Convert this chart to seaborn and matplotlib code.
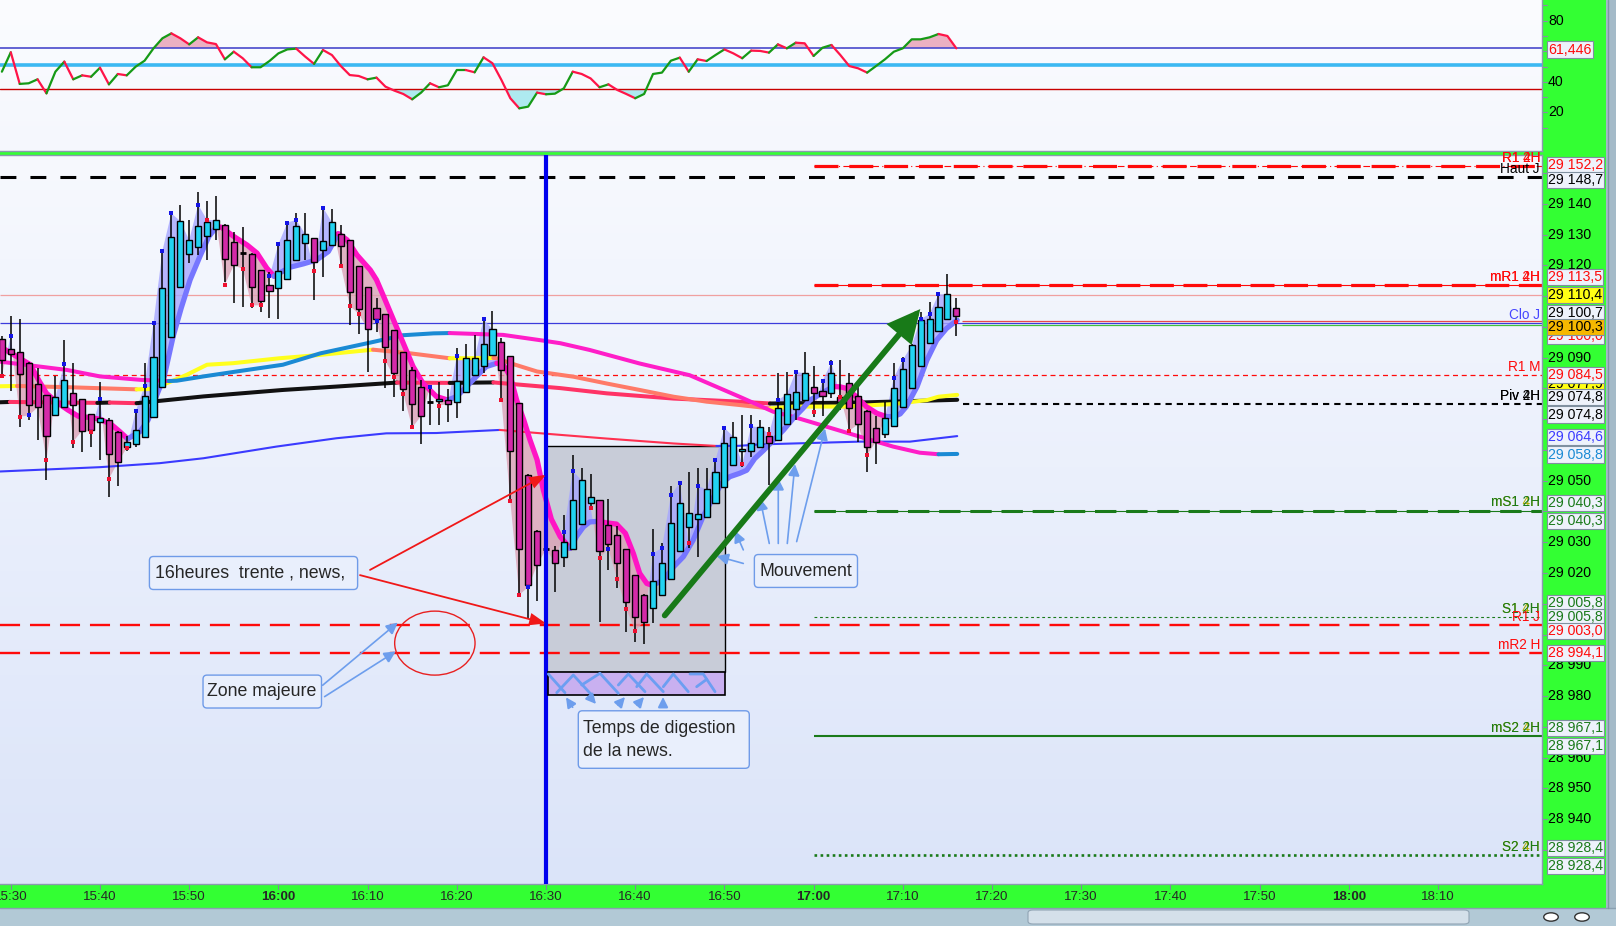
import numpy as np
import matplotlib
matplotlib.use("Agg")
import matplotlib.pyplot as plt
import seaborn as sns
from matplotlib.patches import Rectangle, FancyBboxPatch, Ellipse, FancyArrowPatch, Circle
from matplotlib.transforms import blended_transform_factory
from matplotlib.colors import LinearSegmentedColormap
from matplotlib.lines import Line2D

# ====================== DATA ======================
# minutes relative to 16:30 (one candle per minute)
minutes = list(range(-61, 47))
opens = [29096.0, 29092.7, 29091.7, 29088.2, 29081.4, 29077.8, 29071.3, 29074.1, 29078.4, 29076.5,
         29071.6, 29069.0, 29069.7, 29065.8, 29060.9, 29061.9, 29064.1, 29070.6, 29080.4, 29096.6,
         29112.9, 29123.7, 29125.9, 29129.5, 29131.8, 29133.1, 29127.6, 29124.0, 29123.7, 29118.4,
         29113.5, 29112.6, 29115.5, 29121.6, 29127.2, 29128.8, 29124.9, 29126.7, 29130.1, 29128.2,
         29119.7, 29112.9, 29106.1, 29104.1, 29098.9, 29091.8, 29085.9, 29080.4, 29075.7, 29075.8,
         29076.2, 29075.5, 29078.9, 29084.3, 29087.2, 29090.9, 29095.0, 29090.4, 29075.2, 29052.0,
         29033.7, 29027.7, 29027.5, 29025.3, 29027.7, 29035.8, 29042.9, 29043.6, 29035.5, 29032.2,
         29027.7, 29019.2, 29012.7, 29008.5, 29012.7, 29018.2, 29027.3, 29035.1, 29037.4, 29038.1,
         29042.6, 29047.8, 29055.0, 29059.6, 29059.7, 29061.0, 29064.5, 29063.2, 29068.3, 29073.2,
         29076.2, 29080.6, 29079.3, 29078.4, 29077.3, 29081.7, 29077.5, 29072.8, 29067.0, 29065.1,
         29067.8, 29073.8, 29080.1, 29087.3, 29094.7, 29098.7, 29102.5, 29106.3]
highs = [29097.0, 29103.6, 29102.5, 29088.7, 29086.6, 29078.0, 29083.9, 29095.8, 29088.4, 29076.7,
         29071.8, 29082.2, 29070.3, 29066.0, 29064.4, 29073.0, 29088.2, 29101.2, 29125.0, 29137.0,
         29139.7, 29134.8, 29143.7, 29140.8, 29142.4, 29133.3, 29131.0, 29132.6, 29123.9, 29118.6,
         29118.0, 29127.2, 29134.2, 29137.0, 29137.0, 29129.0, 29138.6, 29138.3, 29133.2, 29128.4,
         29119.9, 29113.1, 29109.3, 29104.3, 29099.1, 29092.0, 29087.1, 29082.8, 29080.6, 29082.2,
         29079.7, 29093.0, 29094.5, 29097.4, 29102.3, 29105.2, 29096.3, 29090.6, 29075.4, 29052.2,
         29033.9, 29029.0, 29028.8, 29038.8, 29058.3, 29054.2, 29052.2, 29043.8, 29044.2, 29035.3,
         29027.9, 29019.4, 29013.1, 29034.2, 29029.6, 29048.3, 29049.9, 29052.7, 29054.0, 29054.0,
         29057.3, 29067.8, 29069.2, 29071.3, 29071.3, 29069.7, 29067.5, 29085.1, 29085.2, 29085.2,
         29091.9, 29087.3, 29082.7, 29089.2, 29089.2, 29084.9, 29080.6, 29073.0, 29071.1, 29075.7,
         29088.2, 29090.3, 29094.5, 29104.9, 29108.2, 29111.5, 29117.1, 29109.3]
lows = [29084.0, 29079.3, 29067.6, 29069.8, 29063.3, 29050.3, 29071.0, 29074.0, 29060.6, 29059.2,
        29061.1, 29056.8, 29044.6, 29048.3, 29059.5, 29061.1, 29064.0, 29070.5, 29080.3, 29096.5,
        29112.8, 29120.7, 29123.4, 29121.6, 29128.3, 29114.7, 29107.7, 29106.6, 29106.1, 29105.0,
        29102.8, 29102.5, 29115.4, 29121.5, 29121.8, 29108.8, 29116.3, 29126.6, 29119.6, 29100.7,
        29097.6, 29085.2, 29098.5, 29080.1, 29077.1, 29072.5, 29068.1, 29061.9, 29068.1, 29068.1,
        29069.2, 29070.3, 29078.8, 29084.2, 29085.0, 29090.8, 29075.7, 29042.7, 29012.3, 29005.3,
        29011.0, 29026.0, 29013.9, 29022.0, 29027.6, 29035.7, 29041.5, 29004.2, 29020.9, 29015.0,
        29000.9, 28997.7, 28996.9, 29003.6, 29012.6, 29018.1, 29027.2, 29028.0, 29025.1, 29038.0,
        29042.5, 29047.7, 29054.9, 29054.5, 29057.8, 29060.9, 29048.6, 29063.1, 29068.2, 29069.7,
        29076.1, 29070.8, 29071.0, 29077.0, 29073.0, 29066.3, 29062.7, 29052.9, 29055.4, 29063.8,
        29067.7, 29073.7, 29080.0, 29087.2, 29094.6, 29098.6, 29102.4, 29097.2]
closes = [29089.1, 29091.2, 29084.6, 29074.5, 29073.8, 29064.4, 29077.1, 29082.7, 29074.5, 29066.3,
          29066.4, 29070.3, 29058.8, 29056.0, 29062.5, 29066.4, 29077.5, 29090.1, 29112.6, 29129.2,
          29134.4, 29128.2, 29132.7, 29134.0, 29134.7, 29122.0, 29120.0, 29124.0, 29113.1, 29108.4,
          29111.6, 29118.2, 29128.2, 29132.8, 29130.2, 29121.0, 29128.0, 29134.0, 29126.3, 29111.3,
          29105.7, 29099.4, 29102.5, 29093.4, 29085.0, 29079.7, 29074.9, 29071.0, 29075.7, 29076.6,
          29074.9, 29082.3, 29089.8, 29089.8, 29094.4, 29099.2, 29085.9, 29059.6, 29027.7, 29016.0,
          29022.5, 29027.7, 29023.4, 29030.0, 29043.6, 29050.1, 29044.6, 29027.0, 29029.3, 29023.1,
          29010.7, 29005.8, 29004.2, 29017.4, 29023.4, 29036.1, 29042.9, 29039.6, 29039.1, 29047.2,
          29052.7, 29062.1, 29064.3, 29060.3, 29062.3, 29067.3, 29062.1, 29073.5, 29078.1, 29078.9,
          29084.9, 29078.4, 29077.5, 29084.9, 29075.7, 29073.5, 29068.3, 29061.1, 29062.7, 29070.3,
          29080.0, 29086.2, 29094.0, 29102.2, 29102.5, 29106.6, 29110.6, 29103.7]

# swing markers (minute, price)
blue_m = [-60, -58, -54, -50, -46, -45, -44, -43, -42, -39, -31, -30, -29, -28, -25, -19, -13, -10, -7, -2,
          2, 3, 7, 12, 13, 14, 15, 17, 19, 20, 23, 26, 28, 31, 32, 39, 40, 42, 43, 44]
blue_v = [29097.2, 29071.2, 29087.9, 29076.6, 29072.5, 29080.9, 29101.4, 29124.8, 29136.9, 29139.7,
          29116.4, 29126.9, 29133.9, 29134.8, 29138.8, 29102.0, 29080.3, 29090.6, 29102.5, 29015.4,
          29033.3, 29053.2, 29027.8, 29026.3, 29028.2, 29045.3, 29049.3, 29048.3, 29056.7, 29067.2,
          29067.7, 29076.2, 29085.4, 29082.5, 29088.4, 29083.5, 29089.2, 29102.5, 29104.2, 29110.6]
red_m = [-61, -59, -56, -53, -51, -49, -47, -38, -36, -34, -33, -32, -26, -23, -22, -21, -18, -17, -16, -15,
         -12, -5, -4, -3, 5, 6, 8, 9, 10, 16, 22, 25, 30, 33, 34, 36, 46]
red_v = [29084.2, 29070.8, 29056.8, 29062.7, 29065.8, 29050.6, 29060.6, 29134.8, 29113.7, 29118.9,
         29107.0, 29107.0, 29118.3, 29119.9, 29106.9, 29104.2, 29088.9, 29083.6, 29078.3, 29067.3,
         29074.4, 29076.3, 29043.4, 29012.9, 29041.2, 29024.9, 29017.9, 29008.4, 29001.2, 29029.6,
         29055.4, 29065.2, 29072.4, 29077.3, 29066.3, 29058.4, 29101.7]

# fast (thick) moving average
fast_x = [-61.2, -57.8, -56.9, -56.0, -54.7, -53.6, -52.4, -51.3, -50.0, -48.7,
          -47.8, -46.9, -45.5, -44.6, -43.7, -42.8, -41.8, -40.9, -39.9, -38.8,
          -37.8, -36.9, -36.4, -35.0, -33.5, -32.4, -31.3, -30.5, -28.7, -27.2,
          -25.7, -24.4, -23.3, -22.3, -21.2, -19.7, -19.0, -18.2, -17.1, -16.0,
          -14.9, -13.8, -12.3, -11.0, -10.0, -8.9, -7.8, -6.7, -5.5, -4.8,
          -4.0, -3.3, -2.5, -1.8, -1.0, -0.3, 0.6, 1.6, 2.7, 3.4,
          4.2, 4.9, 5.9, 6.8, 7.9, 8.9, 9.8, 10.5, 11.3, 11.9,
          13.2, 14.3, 15.4, 16.5, 17.6, 18.8, 19.7, 20.6, 21.7, 22.5,
          23.4, 24.4, 25.5, 26.6, 27.7, 28.8, 29.6, 30.9, 32.2, 33.0,
          33.7, 34.8, 35.9, 37.1, 38.2, 39.0, 39.7, 40.4, 41.6, 42.7,
          43.8, 44.9, 46.1]
fast_v = [29093.6, 29087.7, 29082.8, 29078.4, 29075.2, 29073.0, 29070.9, 29070.6, 29070.0, 29068.2,
          29066.0, 29063.6, 29066.0, 29069.8, 29077.4, 29083.9, 29096.9, 29106.1, 29115.3, 29122.9,
          29129.4, 29132.6, 29132.4, 29129.4, 29126.6, 29124.0, 29119.1, 29116.5, 29119.4, 29120.5,
          29121.8, 29124.5, 29130.3, 29128.3, 29123.4, 29118.5, 29115.3, 29109.9, 29102.3, 29094.7,
          29087.1, 29081.7, 29077.4, 29076.2, 29077.4, 29080.6, 29083.9, 29087.1, 29088.2, 29087.7,
          29083.9, 29076.3, 29069.8, 29063.3, 29056.8, 29047.0, 29037.5, 29031.8, 29028.0, 29031.8,
          29035.0, 29036.6, 29036.8, 29036.3, 29035.9, 29032.9, 29026.3, 29019.9, 29016.6, 29016.0,
          29017.7, 29022.0, 29025.3, 29030.7, 29038.3, 29044.8, 29049.1, 29051.3, 29052.4, 29053.4,
          29057.2, 29059.9, 29063.2, 29066.4, 29070.2, 29073.5, 29076.2, 29078.4, 29080.6, 29080.5,
          29080.0, 29077.3, 29074.1, 29071.9, 29070.8, 29070.9, 29071.7, 29074.1, 29080.6, 29089.2,
          29095.7, 29099.5, 29102.2]

# slower moving averages
maA_x = [-61.2, -53.7, -50.0, -45.5, -42.3, -41.4, -38.4, -34.7, -29.5, -25.3, -19.7, -16.0, -12.6, -10.8,
         -4.8, -0.7, 1.6, 4.9, 10.5, 16.1, 21.7, 25.5, 27.7, 31.4, 35.2, 38.9, 41.9, 44.0, 46.1]
maA_v = [29088.7, 29086.0, 29083.9, 29082.8, 29082.4, 29082.5, 29083.9, 29085.5, 29087.7, 29091.4, 29094.9,
         29097.3, 29097.9, 29098.0, 29097.4, 29095.7, 29094.7, 29092.5, 29088.1, 29084.3, 29077.3, 29072.4,
         29070.8, 29067.6, 29064.3, 29061.1, 29059.1, 29058.6, 29058.7]
maB_x = [-61.2, -59.3, -53.7, -45.9, -44.4, -42.5, -40.3, -38.0, -35.1, -29.9, -25.3, -19.4, -15.2, -10.8,
         -5.9, -5.5, -4.0, -1.0, 3.1, 6.8, 10.5, 14.3, 18.0, 21.7, 25.1, 27.7, 33.3, 38.9, 42.7, 44.0, 46.1]
maB_v = [29080.7, 29080.8, 29080.4, 29079.7, 29079.8, 29081.7, 29084.4, 29087.7, 29088.2, 29089.8, 29090.9,
         29092.6, 29091.4, 29089.8, 29089.9, 29089.8, 29088.2, 29085.5, 29083.8, 29081.6, 29079.5, 29077.3,
         29075.7, 29074.6, 29073.5, 29074.1, 29074.1, 29074.9, 29076.2, 29077.3, 29077.9]
maC_x = [-61.2, -60.1, -50.3, -48.9, -45.9, -38.4, -29.5, -23.5, -16.7, -10.8, -5.9, 1.6, 6.8, 14.3, 21.7,
         25.1, 35.0, 46.1]
maC_v = [29075.5, 29075.6, 29075.3, 29075.4, 29075.2, 29077.4, 29079.5, 29080.6, 29081.9, 29081.8, 29081.95,
         29080.1, 29078.4, 29076.7, 29075.7, 29075.1, 29075.4, 29076.3]
maD_x = [-61.2, -55.6, -50.0, -43.3, -38.4, -30.2, -23.5, -17.9, -12.3, -5.2, 1.6, 6.8, 14.3, 19.1, 21.7,
         24.0, 35.2, 40.8, 46.1]
maD_v = [29053.0, 29053.7, 29054.4, 29055.7, 29057.3, 29061.1, 29063.8, 29065.4, 29065.5, 29066.5, 29064.9,
         29063.7, 29062.1, 29061.3, 29061.35, 29061.8, 29062.7, 29062.7, 29064.5]

# RSI (one value per candle)
rsi = [46.6, 59.3, 38.6, 39.0, 41.6, 32.4, 46.6, 53.2, 41.6, 44.2,
       43.3, 49.2, 38.3, 45.1, 44.2, 49.9, 53.8, 61.9, 68.5, 71.7,
       68.5, 64.5, 69.1, 65.8, 64.7, 54.7, 59.7, 55.4, 49.5, 49.5,
       53.6, 58.6, 61.2, 61.7, 56.5, 51.7, 60.8, 57.5, 50.3, 44.4,
       43.8, 41.6, 42.7, 36.8, 34.2, 32.0, 28.5, 32.9, 39.0, 36.4,
       37.7, 47.7, 47.7, 46.2, 56.0, 52.1, 41.2, 29.2, 22.6, 23.7,
       32.9, 31.8, 32.2, 35.7, 46.6, 45.1, 42.2, 36.4, 38.3, 34.6,
       32.0, 29.2, 32.0, 45.1, 46.0, 53.8, 55.8, 46.6, 54.7, 53.6,
       57.5, 61.2, 58.6, 55.4, 60.4, 60.2, 59.1, 64.5, 61.9, 65.6,
       65.2, 56.9, 62.3, 64.1, 57.5, 50.3, 48.8, 46.0, 50.3, 54.7,
       59.7, 61.9, 67.8, 67.8, 69.1, 71.3, 70.0, 61.9]
rsi_upper, rsi_mid, rsi_lower = 62.3, 51.0, 35.1
rsi_ticks = [80, 40, 20]
rsi_value_label = "61,446"

# price levels
haut_j, r1_2h, mr1_2h, line_110 = 29148.7, 29152.2, 29113.5, 29110.4
clo_j, r1_m, piv_2h = 29101.2, 29084.5, 29074.8
ms1_2h, s1_2h, r1_j, mr2_h = 29040.3, 29005.8, 29003.0, 28994.1
ms2_2h, s2_2h = 28967.1, 28928.4

time_ticks = list(range(-60, 101, 10))
time_labels = ["15:30", "15:40", "15:50", "16:00", "16:10", "16:20", "16:30", "16:40", "16:50",
               "17:00", "17:10", "17:20", "17:30", "17:40", "17:50", "18:00", "18:10"]
price_ticks = list(range(28930, 29151, 10))
price_labels_shown = [29140, 29130, 29120, 29090, 29050, 29030, 29020, 28990, 28980, 28960, 28950, 28940]

# value boxes on the price scale
value_texts = ["29 152,2", "29 148,7", "29 113,5", "29 110,4", "29 100,7", "29 100,0", "29 100,3",
               "29 077,9", "29 084,5", "29 074,8", "29 074,8", "29 064,6", "29 058,8",
               "29 040,3", "29 040,3", "29 005,8", "29 005,8", "29 003,0", "28 994,1",
               "28 967,1", "28 967,1", "28 928,4", "28 928,4"]

# ====================== LAYOUT / STYLE ======================
W, H = 1616, 926
PLOT_R = 1542
RSI_BOT = 151
MAIN_TOP, MAIN_BOT = 155, 884
X_1630, PX_MIN = 546.0, 8.92
Y_29050, PX_PT = 480.7, 3.076
XMIN = -X_1630 / PX_MIN
XMAX = (PLOT_R - X_1630) / PX_MIN
YMAX = 29050 + (Y_29050 - MAIN_TOP) / PX_PT
YMIN = 29050 - (MAIN_BOT - Y_29050) / PX_PT
RSI_PX = 1.5267
RSI_YMAX = 80 + 20.7 / RSI_PX
RSI_YMIN = 20 - (RSI_BOT - 112.3) / RSI_PX
START17 = 30

GREEN_BG = "#33ff33"
CYAN = "#22d3f2"
MAG = "#d42aa8"
RED = "#ff0a0a"
GRN = "#1a7a1a"
OLIVE = "#b0b000"

value_styles = [(RED, "#eef2fb", 29152.6), ("black", "#eef2fb", 29147.7), (RED, "#eef2fb", 29116.3),
                ("black", "#ffff14", 29110.3), ("black", "#eef2fb", 29104.5), (RED, "#eef2fb", 29097.0),
                ("black", "#f6b800", 29100.0), ("black", "#ffff14", 29081.4), (RED, "#eef2fb", 29084.3),
                ("black", "#eef2fb", 29077.2), ("black", "#eef2fb", 29071.5), ("#3a3aff", "#eef2fb", 29064.3),
                ("#1a8ad4", "#eef2fb", 29058.5), (GRN, "#eef2fb", 29042.8), (GRN, "#eef2fb", 29037.0),
                (GRN, "#eef2fb", 29010.2), (GRN, "#eef2fb", 29005.6), (RED, "#eef2fb", 29001.1),
                (RED, "#eef2fb", 28993.9), (GRN, "#eef2fb", 28969.7), (GRN, "#eef2fb", 28963.8),
                (GRN, "#eef2fb", 28930.6), (GRN, "#eef2fb", 28924.8)]

sns.set_theme(style="white")
plt.rcParams['font.family'] = ['Liberation Sans', 'DejaVu Sans']

fig = plt.figure(figsize=(W / 100, H / 100), dpi=100, facecolor=GREEN_BG)
ax_r = fig.add_axes([0, 1 - RSI_BOT / H, PLOT_R / W, RSI_BOT / H])
ax = fig.add_axes([0, 1 - MAIN_BOT / H, PLOT_R / W, (MAIN_BOT - MAIN_TOP) / H])


def grad_bg(a, top, bottom):
    cmap = LinearSegmentedColormap.from_list("bg", [bottom, top])
    a.imshow(np.linspace(0, 1, 256).reshape(-1, 1), extent=[0, 1, 0, 1], transform=a.transAxes,
             cmap=cmap, aspect="auto", origin="lower", zorder=-10, interpolation="bilinear")


def draw_runs(a, xs, ys, up_col, dn_col, lw, z):
    xs = np.asarray(xs, float)
    ys = np.asarray(ys, float)
    cols = [up_col if ys[i + 1] >= ys[i] else dn_col for i in range(len(xs) - 1)]
    s = 0
    for i in range(1, len(cols) + 1):
        if i == len(cols) or cols[i] != cols[s]:
            sns.lineplot(x=xs[s:i + 1], y=ys[s:i + 1], color=cols[s], linewidth=lw, ax=a,
                         estimator=None, sort=False, zorder=z, solid_capstyle="round", legend=False)
            s = i


grad_bg(ax_r, "#fbfcff", "#f5f7fd")
grad_bg(ax, "#f7f9fe", "#dbe4f9")

# ---------------- RSI panel ----------------
mx = np.asarray(minutes, float)
rv = np.asarray(rsi, float)
ax_r.fill_between(mx, rv, rsi_upper, where=rv >= rsi_upper, interpolate=True, color="#ebb0c2", lw=0, zorder=1)
ax_r.fill_between(mx, rv, rsi_lower, where=rv <= rsi_lower, interpolate=True, color="#aeeaf0", lw=0, zorder=1)
ax_r.axhline(rsi_upper, color="#3a3ac8", lw=1.1, zorder=2)
ax_r.axhline(rsi_mid, color="#3cb8f2", lw=2.6, zorder=2)
ax_r.axhline(rsi_lower, color="#c80000", lw=1.0, zorder=2)
draw_runs(ax_r, mx, rv, "#169a16", "#ff1448", 1.6, 3)
ax_r.set_xlim(XMIN, XMAX)
ax_r.set_ylim(RSI_YMIN, RSI_YMAX)
ax_r.set_xticks([]); ax_r.set_yticks([])
ax_r.set_xlabel(""); ax_r.set_ylabel("")
for side, sp in ax_r.spines.items():
    sp.set_visible(side in ("right", "bottom"))
    sp.set_color("#8a9aae"); sp.set_linewidth(1.0)

tr_r = blended_transform_factory(fig.transFigure, ax_r.transData)
for v in range(10, 91, 10):
    ax_r.plot([PLOT_R / W, (PLOT_R + 5) / W], [v, v], transform=tr_r, color="#8a8aa8", lw=0.8, clip_on=False)
for v in rsi_ticks:
    ax_r.text(1548 / W, v, str(v), transform=tr_r, va="center", ha="left", fontsize=10.2, color="black")
ax_r.text(1548 / W, 61.1, rsi_value_label, transform=tr_r, va="center", ha="left", fontsize=10.2, color=RED,
          bbox=dict(boxstyle="square,pad=0.08", fc="#eef2fb", ec="#8090a0", lw=0.8))

# ---------------- main panel ----------------
ax.add_patch(Rectangle((0, 28987.9), 20.07, 29061.3 - 28987.9, fc="#c8ccd8", ec="black", lw=1.0, zorder=1))


def hline(y, x0, color, lw, ls="-", z=2.2):
    ax.plot([x0, XMAX], [y, y], color=color, lw=lw, linestyle=ls, zorder=z,
            solid_capstyle="butt", dash_capstyle="butt")


hline(haut_j, XMIN, "black", 2.2, (0, (5.2, 4.6)))
hline(r1_2h, START17, RED, 0.8, (0, (6, 3, 1, 3)))
hline(r1_2h, START17, RED, 2.3, (0, (7.5, 3.4)))
hline(mr1_2h, START17, RED, 0.8)
hline(mr1_2h, START17, RED, 2.3, (0, (7.5, 3.0)))
hline(line_110, XMIN, "#f0a0a0", 0.9)
hline(clo_j, XMIN, "#3c3cdc", 0.9)
hline(clo_j + 0.7, 46.6, "#e84848", 0.9)
hline(clo_j - 0.5, 46.6, "#40c040", 0.9)
hline(r1_m, XMIN, RED, 0.9, (0, (4, 3)))
hline(piv_2h, 46.7, "black", 1.5, (0, (3, 2.4)))
hline(ms1_2h, START17, GRN, 0.8)
hline(ms1_2h, START17, GRN, 2.2, (0, (7, 3.2)))
hline(s1_2h, START17, GRN, 0.8, (0, (2.5, 2.5)))
hline(r1_j, XMIN, RED, 1.7, (0, (8.5, 4.2)))
hline(mr2_h, XMIN, RED, 1.7, (0, (8.5, 4.2)))
hline(ms2_2h, START17, GRN, 1.5)
hline(s2_2h, START17, GRN, 1.9, (0, (1.0, 1.3)))

# fills between fast MA and price line
fast_line = np.asarray(closes, float).copy()
for mm, vv in zip(blue_m, blue_v):
    fast_line[mm + 61] = vv
for mm, vv in zip(red_m, red_v):
    fast_line[mm + 61] = vv
ma_at = np.interp(mx, fast_x, fast_v)
ax.fill_between(mx, ma_at, fast_line, where=fast_line >= ma_at, interpolate=True,
                color="#a6a6ff", alpha=0.8, lw=0, zorder=2.6)
ax.fill_between(mx, ma_at, fast_line, where=fast_line < ma_at, interpolate=True,
                color="#dca2b6", alpha=0.8, lw=0, zorder=2.6)

# moving averages
draw_runs(ax, maD_x, maD_v, "#3a3aff", "#ff3050", 1.5, 3)
draw_runs(ax, maC_x, maC_v, "#111111", "#ff3366", 2.9, 3.1)
draw_runs(ax, maB_x, maB_v, "#ffff1e", "#ff7a68", 2.9, 3.2)
draw_runs(ax, maA_x, maA_v, "#1a8ad4", "#ff1ec8", 2.9, 3.3)
draw_runs(ax, fast_x, fast_v, "#7676ff", "#ff14c4", 3.8, 4)

# candles
BW = 0.68
for m, o, h, l, c in zip(minutes, opens, highs, lows, closes):
    ax.plot([m, m], [l, h], color="black", lw=1.1, zorder=5, solid_capstyle="butt")
    if abs(c - o) < 0.35:
        ax.plot([m - BW / 2, m + BW / 2], [c, c], color="black", lw=2.0, zorder=6, solid_capstyle="butt")
    else:
        ax.add_patch(Rectangle((m - BW / 2, min(o, c)), BW, abs(c - o), fc=CYAN if c > o else MAG,
                               ec="black", lw=1.0, zorder=6))

ax.scatter(blue_m, blue_v, marker="s", s=11, color="#1414e6", lw=0, zorder=6.5)
ax.scatter(red_m, red_v, marker="s", s=11, color="#ee1030", lw=0, zorder=6.5)

# 16:30 vertical line
ax.axvline(0, color="#0000ee", lw=3.0, zorder=7)

# digestion strip
ax.add_patch(Rectangle((0.22, 28980.33), 19.85, 28987.9 - 28980.33, fc="#c9b0f0", ec="black", lw=1.2, zorder=8))
zig = [[(0.26, 28987.16), (2.13, 28981.08)],
       [(1.20, 28981.08), (3.06, 28986.83), (5.12, 28980.33)],
       [(4.00, 28983.58), (6.05, 28987.39), (8.11, 28980.88)],
       [(8.11, 28983.58), (9.23, 28987.16), (11.10, 28981.40)],
       [(10.17, 28983.03), (11.29, 28987.16), (13.15, 28981.40)],
       [(13.15, 28983.03), (14.27, 28987.16), (15.95, 28981.40)],
       [(16.14, 28987.16), (17.63, 28987.16), (18.95, 28981.40)],
       [(16.89, 28983.03), (18.02, 28985.44)]]
for pl in zig:
    xs, ys = zip(*pl)
    ax.plot(xs, ys, color="#6c9ef2", lw=2.0, zorder=8.5, solid_capstyle="round")

BOX_FC, BOX_EC = "#e9effc", "#6f9be8"
NOTE_FS = 12.8


def note_box(x0, x1, y0, y1):
    ax.add_patch(FancyBboxPatch((x0, y0), x1 - x0, y1 - y0, boxstyle="round,pad=0,rounding_size=0.45",
                                mutation_aspect=PX_MIN / PX_PT, fc=BOX_FC, ec=BOX_EC, lw=1.0, zorder=9))


def arrow(p0, p1, color, lw, ms, style, z=9.5):
    ax.add_patch(FancyArrowPatch(p0, p1, arrowstyle=style, mutation_scale=ms, color=color, lw=lw,
                                 zorder=z, shrinkA=0, shrinkB=0, joinstyle="miter"))


LB = "#6d9eed"
RED_HEAD = "-|>,head_length=0.8,head_width=0.3"
LB_HEAD = "-|>,head_length=0.7,head_width=0.35"

note_box(-44.46, -21.12, 29014.63, 29025.36)
ax.text(-43.88, 29020.0, "16heures  trente , news,", fontsize=NOTE_FS, va="center", ha="left", zorder=10)
arrow((-19.73, 29021.0), (0.0, 29051.9), "#f01818", 1.3, 12, RED_HEAD)
arrow((-20.85, 29019.3), (0.0, 29003.6), "#f01818", 1.3, 12, RED_HEAD)
ax.add_patch(Ellipse((-12.46, 28997.2), 9.01, 20.8, fill=False, ec="#e82020", lw=1.0, zorder=9))

note_box(-38.45, -25.17, 28976.1, 28986.8)
ax.text(-37.95, 28981.4, "Zone majeure", fontsize=NOTE_FS, va="center", ha="left", zorder=10)
arrow((-25.04, 28983.5), (-16.61, 29003.9), LB, 1.2, 10, LB_HEAD)
arrow((-24.82, 28979.8), (-16.84, 28994.5), LB, 1.2, 10, LB_HEAD)

note_box(3.62, 22.79, 28956.5, 28975.2)
ax.text(4.11, 28969.5, "Temps de digestion", fontsize=NOTE_FS, va="center", ha="left", zorder=10)
ax.text(4.11, 28961.9, "de la news.", fontsize=NOTE_FS, va="center", ha="left", zorder=10)
for p0, p1 in [((2.99, 28976.33), (2.24, 28979.58)), ((4.93, 28979.68), (5.61, 28977.41)),
               ((8.07, 28977.08), (8.86, 28979.68)), ((10.20, 28977.08), (10.99, 28979.68)),
               ((13.12, 28976.76), (13.12, 28979.68))]:
    arrow(p0, p1, LB, 1.2, 9, LB_HEAD)

arrow((13.31, 29006.2), (41.96, 29105.8), "#187a18", 4.2, 20, "-|>,head_length=0.85,head_width=0.42", z=9.6)

note_box(23.36, 34.92, 29015.3, 29026.0)
ax.text(23.95, 29020.6, "Mouvement", fontsize=NOTE_FS, va="center", ha="left", zorder=10)
for p0, p1 in [((22.12, 29023.1), (19.14, 29025.5)), ((22.12, 29027.5), (21.19, 29033.7)),
               ((25.03, 29029.6), (23.99, 29044.3)), ((26.04, 29029.6), (26.04, 29050.8)),
               ((27.05, 29029.6), (27.91, 29055.4)), ((28.10, 29030.2), (31.28, 29067.0))]:
    arrow(p0, p1, LB, 1.2, 10, LB_HEAD)

# level names left of the price scale
tr_lab = blended_transform_factory(fig.transFigure, ax.transData)
LAB_X = 1540 / W
level_names = [("R1 4H", RED, r1_2h), ("R1 2H", RED, r1_2h), ("Haut J", "black", haut_j),
               ("mR1 4H", RED, mr1_2h), ("mR1 2H", RED, mr1_2h), ("Clo J", "#4646ff", clo_j),
               ("R1 M", RED, r1_m), ("Piv 4H", "black", piv_2h), ("Piv 2H", "black", piv_2h),
               ("mS1 4H", OLIVE, ms1_2h), ("mS1 2H", GRN, ms1_2h), ("S1 4H", OLIVE, s1_2h),
               ("S1 2H", GRN, s1_2h), ("R1 J", RED, r1_j), ("mR2 H", RED, mr2_h),
               ("mS2 4H", OLIVE, ms2_2h), ("mS2 2H", GRN, ms2_2h), ("S2 4H", OLIVE, s2_2h),
               ("S2 2H", GRN, s2_2h)]
for txt, col, yv in level_names:
    ax.annotate(txt, xy=(LAB_X, yv), xycoords=tr_lab, xytext=(0, 5.8), textcoords="offset points",
                ha="right", va="center", fontsize=9.8, color=col, zorder=10, annotation_clip=False)

# price scale ticks and labels
for v in price_ticks:
    ax.plot([PLOT_R / W, (PLOT_R + 5) / W], [v, v], transform=tr_lab, color="#8a8aa8", lw=0.8, clip_on=False)
for v in price_labels_shown:
    ax.text(1548 / W, v, f"{v // 1000} {v % 1000:03d}", transform=tr_lab, va="center", ha="left",
            fontsize=10.2, color="black", fontweight="bold" if v % 100 == 0 else "normal")
for txt, (tc, fc, yc) in zip(value_texts, value_styles):
    ax.text(1548 / W, yc, txt, transform=tr_lab, va="center", ha="left", fontsize=10.2, color=tc,
            bbox=dict(boxstyle="square,pad=0.08", fc=fc, ec="#8090a0", lw=0.8), zorder=11)

ax.set_xlim(XMIN, XMAX)
ax.set_ylim(YMIN, YMAX)
ax.set_xticks([]); ax.set_yticks([])
ax.set_xlabel(""); ax.set_ylabel("")
for side, sp in ax.spines.items():
    sp.set_visible(side in ("right", "bottom", "top"))
    sp.set_color("#8a9aae"); sp.set_linewidth(1.0)

# time axis
tr_t = blended_transform_factory(ax.transData, fig.transFigure)
for t, lab in zip(time_ticks, time_labels):
    ax.plot([t, t], [1 - MAIN_BOT / H, 1 - (MAIN_BOT + 5) / H], transform=tr_t, color="#7a8a9a", lw=0.8,
            clip_on=False)
    ax.text(t, 1 - 897.5 / H, lab, transform=tr_t, ha="center", va="center", fontsize=9.6,
            fontweight="bold" if lab.endswith(":00") else "normal", clip_on=False)

# window chrome: bottom toolbar and right scrollbar
fig.add_artist(Rectangle((0, 0), 1, 18 / H, transform=fig.transFigure, fc="#b2c9d6", ec="none"))
fig.add_artist(Line2D([0, 1], [18 / H, 18 / H], transform=fig.transFigure, color="#8aa0b0", lw=1))
fig.add_artist(FancyBboxPatch((1028 / W, 2 / H), 441 / W, 14 / H, boxstyle="round,pad=0,rounding_size=0.003",
                              transform=fig.transFigure, fc="#d4e0ea", ec="#90a4b4", lw=0.8))
for cx in (1551, 1582):
    fig.add_artist(Circle((cx / W, 9 / H), 0.0045, transform=fig.transFigure, fc="white", ec="#333333", lw=1))
fig.add_artist(Rectangle((1606 / W, 18 / H), 10 / W, 1 - 18 / H, transform=fig.transFigure, fc="#a4bac8", ec="none"))
fig.add_artist(Line2D([1608 / W, 1608 / W], [18 / H, 1], transform=fig.transFigure, color="#7f95a5", lw=1))

fig.savefig("out.png", dpi=100, facecolor=fig.get_facecolor())
